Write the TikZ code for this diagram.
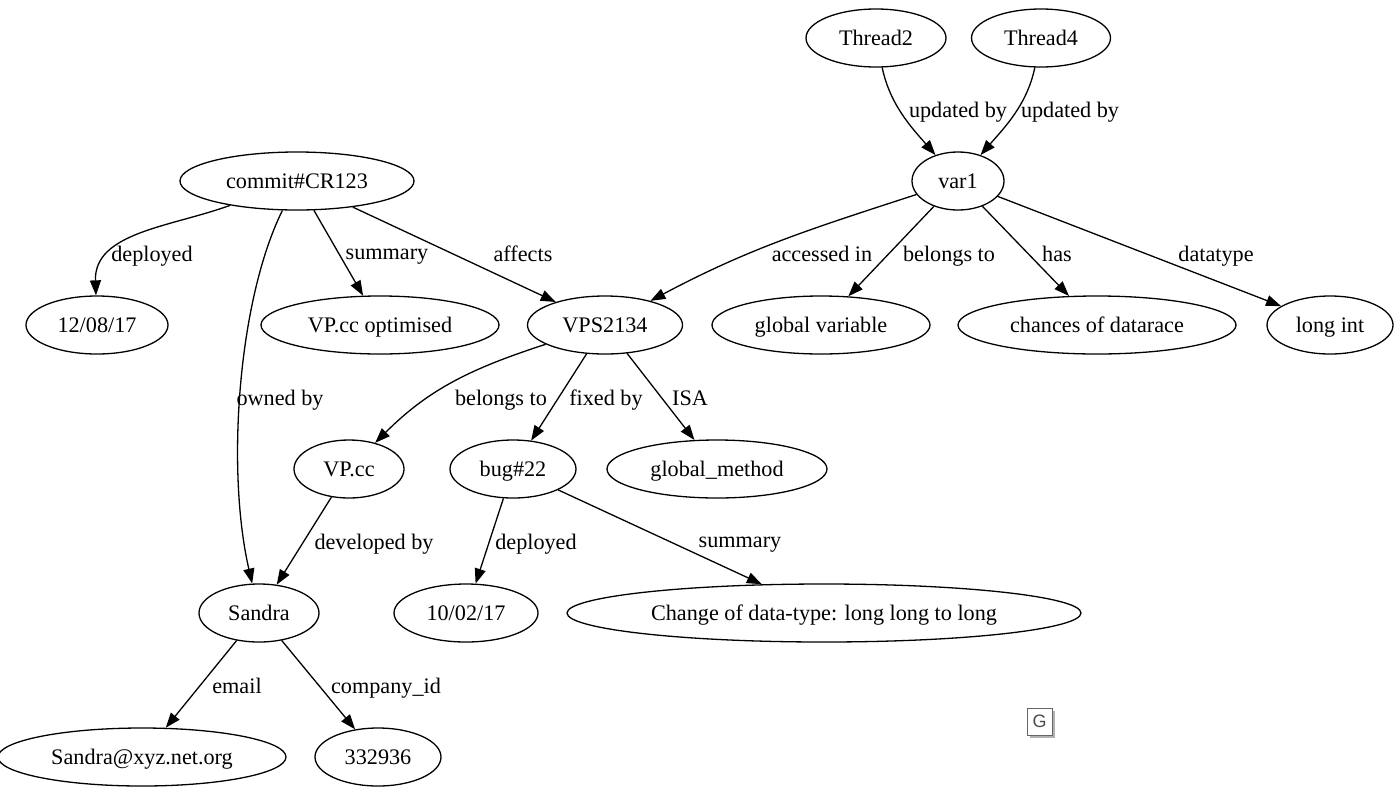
\documentclass[tikz,border=0pt]{standalone}
\usepackage{fontspec}
\setmainfont{Liberation Serif}
\newfontfamily\gfont{Liberation Sans}
\usetikzlibrary{shapes.geometric,arrows.meta}
\begin{document}
\begin{tikzpicture}[x=1pt,y=-1pt,
  every node/.style={font=\fontsize{22.2}{26}\selectfont,text depth=0pt},
  ell/.style={ellipse,draw,line width=1.3pt,inner sep=0pt,minimum height=58pt},
  lbl/.style={inner sep=0pt,anchor=center},
  edge/.style={line width=1.3pt,-{Triangle[length=15pt,width=11pt]}}]
\useasboundingbox (0,0) rectangle (1399,793);
% nodes
\node[ell,minimum width=140pt] (t2) at (876,38) {Thread2};
\node[ell,minimum width=139pt] (t4) at (1041,38) {Thread4};
\node[ell,minimum width=92pt] (var1) at (958,181) {var1};
\node[ell,minimum width=234pt] (commit) at (297,181) {commit\#CR123};
\node[ell,minimum width=142pt] (d1) at (97,325) {12/08/17};
\node[ell,minimum width=238pt] (opt) at (380,325) {VP.cc optimised};
\node[ell,minimum width=155pt] (vps) at (605,325) {VPS2134};
\node[ell,minimum width=218pt] (gv) at (821,325) {global variable};
\node[ell,minimum width=278pt] (dr) at (1097,325) {chances of datarace};
\node[ell,minimum width=126pt] (li) at (1330,325) {long int};
\node[ell,minimum width=110pt] (vpcc) at (349,469) {VP.cc};
\node[ell,minimum width=126pt] (bug) at (513,469) {bug\#22};
\node[ell,minimum width=220pt] (gm) at (717,469) {global\_method};
\node[ell,minimum width=120pt] (sandra) at (259,613) {Sandra};
\node[ell,minimum width=144pt] (d2) at (466,613) {10/02/17};
\node[ell,minimum width=514pt] (chg) at (824,613) {Change of data-type: long long to long};
\node[ell,minimum width=288pt] (mail) at (142,757) {Sandra@xyz.net.org};
\node[ell,minimum width=126pt] (cid) at (378,757) {332936};
% edges
\draw[edge] (t2) .. controls (890,105) and (912,128) .. (var1);
\draw[edge] (t4) .. controls (1027,105) and (1004,128) .. (var1);
\draw[edge] (commit) to[out=200,in=92] (d1);
\draw[edge] (commit) -- (opt);
\draw[edge] (commit) -- (vps);
\draw[edge] (commit) .. controls (238,300) and (226,470) .. (sandra);
\draw[edge] (var1) to[out=198,in=28] (vps);
\draw[edge] (var1) -- (gv);
\draw[edge] (var1) -- (dr);
\draw[edge] (var1) -- (li);
\draw[edge] (vps) to[out=198,in=45] (vpcc);
\draw[edge] (vps) -- (bug);
\draw[edge] (vps) -- (gm);
\draw[edge] (vpcc) -- (sandra);
\draw[edge] (bug) -- (d2);
\draw[edge] (bug) -- (chg);
\draw[edge] (sandra) -- (mail);
\draw[edge] (sandra) -- (cid);
% labels
\node[lbl] (l1) at (958,110) {updated by};
\node[lbl] (l2) at (1070,110) {updated by};
\node[lbl] (l3) at (152,254) {deployed};
\node[lbl] (l4) at (387,254) {summary};
\node[lbl] (l5) at (523,254) {affects};
\node[lbl] (l6) at (280,398) {owned by};
\node[lbl] (l7) at (822,254) {accessed in};
\node[lbl] (l8) at (949,254) {belongs to};
\node[lbl] (l9) at (1057,254) {has};
\node[lbl] (l10) at (1216,254) {datatype};
\node[lbl] (l11) at (501,398) {belongs to};
\node[lbl] (l12) at (606,398) {fixed by};
\node[lbl] (l13) at (690,398) {ISA};
\node[lbl] (l14) at (374,542) {developed by};
\node[lbl] (l15) at (536,542) {deployed};
\node[lbl] (l16) at (740,542) {summary};
\node[lbl] (l17) at (237,686) {email};
\node[lbl] (l18) at (386,686) {company\_id};
% G box
\fill[black!30] (1030,711) rectangle (1055,738);
\node[draw=black!60,fill=white,line width=1pt,minimum width=25pt,minimum height=27pt,inner sep=0pt,font=\gfont\fontsize{18}{20}\selectfont,text=black!70] (g) at (1039.5,721.5) {G};
\end{tikzpicture}
\end{document}
